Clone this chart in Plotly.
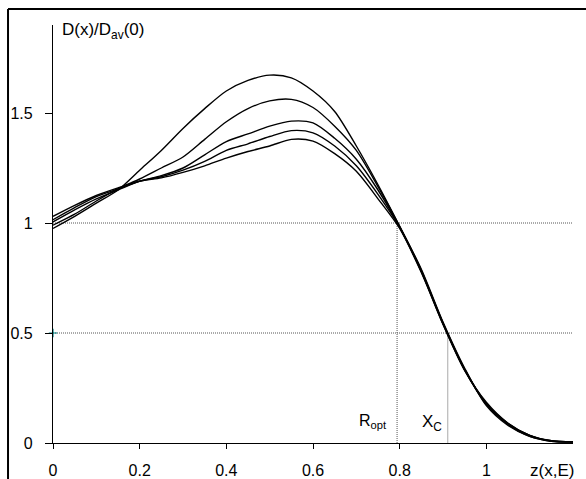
import plotly.graph_objects as go

# ---- data ----
z = [0.0, 0.05, 0.1, 0.15, 0.2, 0.25, 0.3, 0.35, 0.4, 0.45, 0.5, 0.55, 0.6,
     0.65, 0.7, 0.75, 0.8, 0.85, 0.9, 0.95, 1.0, 1.05, 1.1, 1.15, 1.2]

curve_a = [0.975, 1.03, 1.09, 1.15, 1.24, 1.33, 1.43, 1.52, 1.60, 1.648, 1.672, 1.66, 1.60,
           1.507, 1.35, 1.174, 0.985, 0.79, 0.55, 0.34, 0.17, 0.08, 0.03, 0.008, 0.005]
curve_b = [0.99, 1.04, 1.10, 1.155, 1.20, 1.25, 1.30, 1.38, 1.46, 1.52, 1.555, 1.562, 1.525,
           1.44, 1.33, 1.165, 0.985, 0.785, 0.545, 0.335, 0.175, 0.085, 0.03, 0.008, 0.005]
curve_c = [1.005, 1.06, 1.11, 1.15, 1.19, 1.215, 1.25, 1.31, 1.37, 1.405, 1.44, 1.463, 1.455,
           1.385, 1.29, 1.15, 0.98, 0.78, 0.545, 0.335, 0.18, 0.085, 0.035, 0.01, 0.005]
curve_d = [1.015, 1.07, 1.12, 1.155, 1.19, 1.21, 1.24, 1.28, 1.33, 1.36, 1.393, 1.42, 1.41,
           1.35, 1.26, 1.13, 0.98, 0.78, 0.54, 0.33, 0.18, 0.09, 0.035, 0.01, 0.005]
curve_e = [1.03, 1.08, 1.125, 1.16, 1.19, 1.205, 1.23, 1.26, 1.295, 1.325, 1.35, 1.38, 1.372,
           1.315, 1.235, 1.11, 0.975, 0.775, 0.54, 0.33, 0.185, 0.09, 0.035, 0.01, 0.005]

curves = [curve_a, curve_b, curve_c, curve_d, curve_e]

R_opt = 0.794
x_c = 0.911
ref_levels = [1.0, 0.5]

x_ticks = [0, 0.2, 0.4, 0.6, 0.8, 1.0]
x_ticktext = ["0", "0.2", "0.4", "0.6", "0.8", "1"]
y_ticks = [0, 0.5, 1.0, 1.5]
y_ticktext = ["0", "0.5", "1", "1.5"]

FONT = "Liberation Sans"

fig = go.Figure()

for c in curves:
    fig.add_trace(go.Scatter(x=z, y=c, mode="lines",
                             line=dict(color="black", width=1.4, shape="spline", smoothing=0.8),
                             showlegend=False, hoverinfo="skip"))

# teal marker on y axis at 0.5
fig.add_trace(go.Scatter(x=[0], y=[0.5], mode="markers",
                         marker=dict(symbol="cross-thin", size=6,
                                     line=dict(color="#008080", width=1.2)),
                         showlegend=False, hoverinfo="skip", cliponaxis=False))

shapes = []
for lv in ref_levels:
    shapes.append(dict(type="line", xref="x", yref="y", x0=0, x1=1.2, y0=lv, y1=lv,
                       line=dict(color="#555555", width=1, dash="1px,1px"), layer="below"))
shapes.append(dict(type="line", xref="x", yref="y", x0=R_opt, x1=R_opt, y0=0, y1=1.0,
                   line=dict(color="#555555", width=1, dash="1px,1px"), layer="below"))
shapes.append(dict(type="line", xref="x", yref="y", x0=x_c, x1=x_c, y0=0, y1=0.5,
                   line=dict(color="#aaaaaa", width=1), layer="below"))
# outer frame (left & top visible)
shapes.append(dict(type="line", xref="paper", yref="paper", x0=-0.0865, x1=-0.0865,
                   y0=-0.2, y1=1.038, line=dict(color="black", width=2)))
shapes.append(dict(type="line", xref="paper", yref="paper", x0=-0.0865, x1=1.2,
                   y0=1.038, y1=1.038, line=dict(color="black", width=2)))

annotations = [
    dict(text="D(x)/D<sub>av</sub>(0)", xref="paper", yref="paper", x=0.013, y=0.985,
         xanchor="left", yanchor="middle", showarrow=False,
         font=dict(family=FONT, size=17, color="black")),
    dict(text="z(x,E)", xref="paper", yref="paper", x=0.96, y=-0.065,
         xanchor="center", yanchor="middle", showarrow=False,
         font=dict(family=FONT, size=17, color="black")),
    dict(text="R<sub>opt</sub>", xref="x", yref="y", x=R_opt - 0.018, y=0.1,
         xanchor="right", yanchor="middle", showarrow=False,
         font=dict(family=FONT, size=16, color="black")),
    dict(text="X<sub>C</sub>", xref="x", yref="y", x=x_c - 0.008, y=0.09,
         xanchor="right", yanchor="middle", showarrow=False,
         font=dict(family=FONT, size=17, color="black")),
]

fig.update_layout(
    width=586, height=479,
    margin=dict(l=53, r=13, t=25, b=36),
    paper_bgcolor="white", plot_bgcolor="white",
    font=dict(family=FONT, size=16, color="black"),
    shapes=shapes, annotations=annotations,
    xaxis=dict(range=[0, 1.2], tickvals=x_ticks, ticktext=x_ticktext, automargin=False,
               showgrid=False, zeroline=False, showline=True, linecolor="black",
               linewidth=1.3, ticks="outside", ticklen=5, tickwidth=1.3, tickcolor="black",
               ticklabelstandoff=8, tickfont=dict(family=FONT, size=16)),
    yaxis=dict(range=[0, 1.9], tickvals=y_ticks, ticktext=y_ticktext, automargin=False,
               showgrid=False, zeroline=False, showline=True, linecolor="black",
               linewidth=1.3, ticks="outside", ticklen=7, tickwidth=1.3, tickcolor="black",
               ticklabelstandoff=9, tickfont=dict(family=FONT, size=16)),
)

fig.write_html("out.html", config={"displayModeBar": False},
               post_script="document.body.style.margin='0px';document.body.style.overflow='hidden';")
